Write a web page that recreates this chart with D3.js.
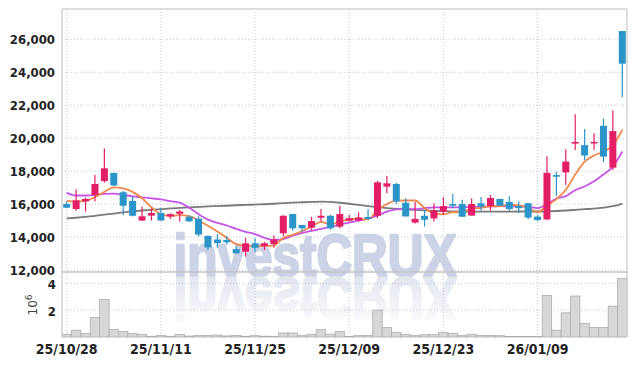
<!DOCTYPE html>
<html>
<head>
<meta charset="utf-8">
<script src="https://cdn.jsdelivr.net/npm/d3@7"></script>
<style>
  body { margin: 0; background: #fff; }
</style>
</head>
<body>
<svg id="chart" width="635" height="366"></svg>
<script>
// Trading days (yy/mm/dd)
const dates = [
  "25/10/28","25/10/29","25/10/30","25/10/31",
  "25/11/03","25/11/04","25/11/05","25/11/06","25/11/07","25/11/10","25/11/11","25/11/12","25/11/13","25/11/14",
  "25/11/17","25/11/18","25/11/19","25/11/20","25/11/21","25/11/24","25/11/25","25/11/26","25/11/27","25/11/28",
  "25/12/01","25/12/02","25/12/03","25/12/04","25/12/05","25/12/08","25/12/09","25/12/10","25/12/11","25/12/12",
  "25/12/15","25/12/16","25/12/17","25/12/18","25/12/19","25/12/22","25/12/23","25/12/24","25/12/26","25/12/29","25/12/30",
  "26/01/02","26/01/05","26/01/06","26/01/07","26/01/08","26/01/09","26/01/12","26/01/13","26/01/14","26/01/15",
  "26/01/16","26/01/19","26/01/20","26/01/21","26/01/22"
];

const open = [
  16000,15700,16170,16550,17400,17890,16720,16190,15000,15300,
  15460,15250,15410,15230,15120,14070,13850,13820,13270,13110,
  13620,13460,13580,14230,15400,14730,14570,15170,15290,14630,
  14990,15010,15220,15290,17060,17220,16080,14880,15290,15130,
  15540,16000,16000,15300,16050,15880,16310,16130,15880,16050,
  15240,15070,17760,17920,19670,19580,19690,20750,18210,26500
];
const high = [
  16150,16900,16400,17760,19380,17900,16800,16450,15850,15740,
  15770,15440,15640,15300,15260,14100,14180,14060,13480,13960,
  13920,13700,14100,15330,15400,14750,15230,15700,15350,15880,
  15340,15500,15680,17400,17700,17300,16350,16120,15600,16050,
  16410,16610,16270,16340,16430,16550,16330,16470,16150,16080,
  15340,18900,17960,19330,21450,20550,20300,21200,21700,26500
];
const low = [
  15750,15600,15550,16150,17300,17100,15340,15240,14970,15000,
  14970,15090,14950,14930,14020,13220,13350,13550,12980,12810,
  13110,13210,13350,14060,14400,14320,14430,14940,14450,14530,
  14950,14940,15030,15150,16650,16000,15250,14820,14640,14940,
  15340,15740,15230,15300,15600,15600,15880,15580,15450,15080,
  14970,15030,16490,17160,19280,18670,19280,18540,18070,22480
];
const close = [
  15780,16230,16310,17220,18170,17130,15900,15290,15260,15460,
  15000,15390,15550,14950,14150,13370,13630,13680,13010,13620,
  13350,13620,13860,15290,14530,14530,14970,15290,14530,15400,
  15140,15190,15100,17320,17260,16160,15250,15100,15050,15610,
  15880,15900,15230,16000,15850,16370,15900,15700,15750,15180,
  15030,17900,17660,18580,19770,18950,19770,18880,20430,24520
];

// Volume in millions of shares
const volume = [
  0.2,0.5,0.25,1.45,2.8,0.55,0.4,0.25,0.2,0.05,
  0.12,0.05,0.18,0.07,0.12,0.12,0.15,0.08,0.12,0.05,
  0.1,0.06,0.05,0.3,0.3,0.1,0.2,0.55,0.22,0.4,
  0.05,0.1,0.12,2.0,0.7,0.35,0.2,0.1,0.17,0.17,
  0.35,0.28,0.1,0.2,0.12,0.12,0.1,0.03,0.03,0.03,
  0.04,3.1,0.5,1.8,3.05,1.0,0.7,0.7,2.3,4.35
];

// Moving averages as drawn
const ma5 = [
  16190,16150,16190,16420,16742,17012,16946,16742,16350,15808,
  15382,15280,15332,15270,15008,14682,14330,13956,13568,13462,
  13458,13456,13492,13948,14130,14366,14636,14922,14770,14944,
  15066,15110,15072,15630,16002,16206,16218,16218,15764,15434,
  15378,15508,15534,15724,15772,15870,15870,15964,15914,15780,
  15512,15912,16304,16870,17788,18572,18946,19190,19560,20510
];
const ma20 = [
  16680,16520,16520,16560,16620,16640,16560,16470,16410,16350,
  16280,16180,16090,15780,15390,15060,14860,14700,14500,14320,
  14180,13950,13830,13880,14080,14250,14370,14500,14620,14750,
  14880,14990,15110,15300,15540,15680,15700,15690,15760,15800,
  15800,15800,15810,15820,15840,15860,15880,15880,15860,15840,
  15750,16000,16330,16480,16840,17070,17380,17800,18270,19190
];
const ma60 = [
  15130,15170,15220,15290,15360,15420,15500,15560,15610,15650,
  15690,15740,15770,15800,15830,15860,15880,15900,15930,15950,
  15970,15990,16020,16060,16090,16110,16130,16150,16130,16080,
  16020,15950,15880,15810,15750,15710,15680,15650,15620,15590,
  15570,15560,15550,15550,15540,15540,15540,15540,15550,15550,
  15550,15560,15580,15610,15650,15690,15730,15790,15870,16030
];

const priceTicks = [12000, 14000, 16000, 18000, 20000, 22000, 24000, 26000];
const volumeTicks = [2, 4];
const dateTicks = ["25/10/28","25/11/11","25/11/25","25/12/09","25/12/23","26/01/09"];

// Layout
const plotLeft = 62, plotRight = 627, plotTop = 9;
const priceBottom = 272, volBottom = 337;
const upColor = "#e41e66", downColor = "#2b95c9";
const gridColor = "#c4c8d8";
const labelFont = "'Liberation Sans Narrow','DejaVu Sans Condensed',sans-serif";

const svg = d3.select("#chart");

const x = d3.scaleBand().domain(dates).range([plotLeft, plotRight]);
const cx = d => x(d) + x.bandwidth() / 2;
const y = d3.scaleLinear().domain([12000, 26000]).range([270, 39.3]);
const yVol = d3.scaleLinear().domain([0, 4]).range([volBottom, 283.3]);

// Watermark and its reflection
const defs = svg.append("defs");
const fade = defs.append("linearGradient")
  .attr("id", "fade").attr("x1", 0).attr("y1", 0).attr("x2", 0).attr("y2", 1);
fade.append("stop").attr("offset", "0%").attr("stop-color", "#ffffff");
fade.append("stop").attr("offset", "100%").attr("stop-color", "#dde1ed");

const wmX = 315, wmBase = 276;
const watermark = (sel) => sel
  .attr("x", wmX).attr("y", wmBase)
  .attr("text-anchor", "middle")
  .attr("font-family", "'Liberation Sans',Arial,sans-serif")
  .attr("font-weight", "bold")
  .attr("font-size", 60)
  .attr("textLength", 283)
  .attr("lengthAdjust", "spacingAndGlyphs")
  .attr("stroke-width", 2.5)
  .attr("stroke-linejoin", "round")
  .text("investCRUX");

svg.append("text").call(watermark)
  .attr("fill", "#ccd3e6")
  .attr("stroke", "#ccd3e6");

svg.append("text").call(watermark)
  .attr("transform", `translate(0,${2 * wmBase + 2}) scale(1,-1)`)
  .attr("fill", "url(#fade)")
  .attr("stroke", "url(#fade)");

// Grid
const grid = svg.append("g").attr("stroke", gridColor).attr("stroke-dasharray", "1,2");
grid.selectAll(".hgrid").data(priceTicks).join("line")
  .attr("class", "hgrid")
  .attr("x1", plotLeft).attr("x2", plotRight)
  .attr("y1", d => y(d)).attr("y2", d => y(d));
grid.selectAll(".vgrid").data(volumeTicks).join("line")
  .attr("class", "vgrid")
  .attr("x1", plotLeft).attr("x2", plotRight)
  .attr("y1", d => yVol(d)).attr("y2", d => yVol(d));
grid.selectAll(".xgrid").data(dateTicks).join("line")
  .attr("class", "xgrid")
  .attr("x1", d => cx(d)).attr("x2", d => cx(d))
  .attr("y1", plotTop).attr("y2", volBottom);

// Volume bars
svg.append("g").selectAll("rect").data(dates).join("rect")
  .attr("x", d => x(d))
  .attr("width", x.bandwidth())
  .attr("y", (d, i) => yVol(volume[i]))
  .attr("height", (d, i) => volBottom - yVol(volume[i]))
  .attr("fill", "#d7d7da")
  .attr("stroke", "#adadb2")
  .attr("stroke-width", 0.8);

// Moving averages
const maLine = d3.line().x((v, i) => cx(dates[i])).y(v => y(v)).curve(d3.curveMonotoneX);
[[ma60, "#7a7a7a"], [ma20, "#c455e6"], [ma5, "#f0884c"]].forEach(([vals, color]) => {
  svg.append("path")
    .datum(vals)
    .attr("fill", "none")
    .attr("stroke", color)
    .attr("stroke-width", 1.8)
    .attr("d", maLine);
});

// Candles
const candles = svg.append("g").selectAll("g").data(dates).join("g")
  .attr("fill", (d, i) => close[i] >= open[i] ? upColor : downColor)
  .attr("stroke", (d, i) => close[i] >= open[i] ? upColor : downColor);

candles.append("line")
  .attr("x1", d => cx(d)).attr("x2", d => cx(d))
  .attr("y1", (d, i) => y(high[i])).attr("y2", (d, i) => y(low[i]))
  .attr("stroke-width", 1.2);

const bodyW = 7;
candles.append("rect")
  .attr("stroke", "none")
  .attr("x", d => cx(d) - bodyW / 2)
  .attr("width", bodyW)
  .attr("y", (d, i) => y(Math.max(open[i], close[i])))
  .attr("height", (d, i) => Math.max(1.5, Math.abs(y(open[i]) - y(close[i]))));

// Frame
const frame = svg.append("g").attr("stroke", "#d2d2d2").attr("stroke-width", 1.5).attr("fill", "none");
frame.append("line").attr("x1", plotLeft).attr("x2", plotLeft).attr("y1", plotTop).attr("y2", volBottom);
frame.append("line").attr("x1", plotRight).attr("x2", plotRight).attr("y1", plotTop).attr("y2", volBottom);
frame.append("line").attr("x1", plotLeft).attr("x2", plotRight).attr("y1", plotTop).attr("y2", plotTop);
frame.append("line").attr("x1", plotLeft).attr("x2", plotRight).attr("y1", priceBottom).attr("y2", priceBottom)
  .attr("stroke", "#c4c4c4");

// Price axis labels
svg.append("g").selectAll("text").data(priceTicks).join("text")
  .attr("x", 55).attr("y", d => y(d))
  .attr("dy", "0.36em")
  .attr("text-anchor", "end")
  .attr("font-family", labelFont)
  .attr("font-weight", "bold")
  .attr("font-size", 13)
  .attr("fill", "#222")
  .text(d => d3.format(",")(d));

// Volume axis labels
svg.append("g").selectAll("text").data(volumeTicks).join("text")
  .attr("x", 56).attr("y", d => yVol(d) + 1)
  .attr("dy", "0.36em")
  .attr("text-anchor", "end")
  .attr("font-family", labelFont)
  .attr("font-weight", "bold")
  .attr("font-size", 13)
  .attr("fill", "#222")
  .text(d => d);

// Volume unit 10^6
const unit = svg.append("text")
  .attr("transform", "translate(37,305) rotate(-90)")
  .attr("text-anchor", "middle")
  .attr("font-family", "'DejaVu Sans',sans-serif")
  .attr("font-size", 12)
  .attr("fill", "#444");
unit.append("tspan").text("10");
unit.append("tspan").attr("dy", -5).attr("font-size", 9).text("6");

// Date labels
svg.append("g").selectAll("text").data(dateTicks).join("text")
  .attr("x", d => cx(d)).attr("y", 354)
  .attr("text-anchor", "middle")
  .attr("font-family", labelFont)
  .attr("font-weight", "bold")
  .attr("font-size", 14)
  .attr("fill", "#222")
  .text(d => d);
</script>
</body>
</html>
